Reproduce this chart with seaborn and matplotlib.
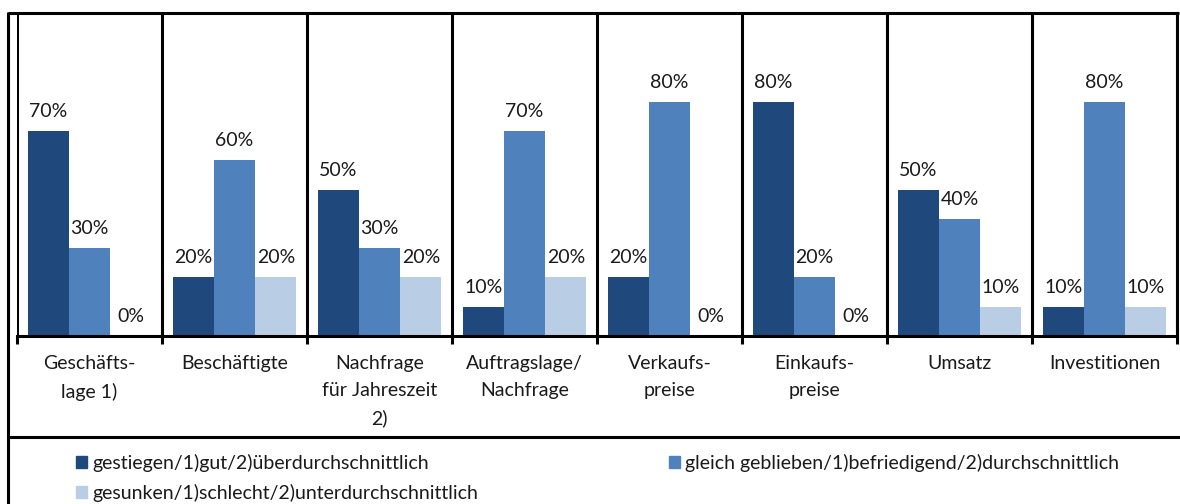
import matplotlib
matplotlib.use("Agg")
import matplotlib.pyplot as plt
from matplotlib.lines import Line2D
import seaborn as sns
import pandas as pd

categories = ["Geschäfts-\nlage 1)", "Beschäftigte", "Nachfrage\nfür Jahreszeit\n2)",
              "Auftragslage/\nNachfrage", "Verkaufs-\npreise", "Einkaufs-\npreise",
              "Umsatz", "Investitionen"]
series_names = ["gestiegen/1)gut/2)überdurchschnittlich",
                "gleich geblieben/1)befriedigend/2)durchschnittlich",
                "gesunken/1)schlecht/2)unterdurchschnittlich"]
gestiegen = [70, 20, 50, 10, 20, 80, 50, 10]
gleich = [30, 60, 30, 70, 80, 20, 40, 80]
gesunken = [0, 20, 20, 20, 0, 0, 10, 10]
colors = ["#1F497D", "#4F81BD", "#B9CDE5"]

rows = []
for name, vals in zip(series_names, [gestiegen, gleich, gesunken]):
    for c, v in zip(categories, vals):
        rows.append({"cat": c, "series": name, "value": v})
df = pd.DataFrame(rows)

sns.set_theme(style="white")
plt.rcParams["font.family"] = ["Lato", "DejaVu Sans"]
FS = 14
TXT = "#1a1a1a"
W, H = 1180, 504
fig = plt.figure(figsize=(W / 100, H / 100), dpi=100)
ax = fig.add_axes([17 / W, (H - 336) / H, 1160 / W, 323 / H])

sns.barplot(data=df, x="cat", y="value", hue="series", order=categories,
            hue_order=series_names, palette=colors, width=0.855, gap=0,
            saturation=1, ax=ax, legend=False, linewidth=0, edgecolor="none")

for cont in ax.containers:
    ax.bar_label(cont, fmt="{:.0f}%", padding=8, fontsize=FS, color=TXT)

ax.set_xlim(-0.5, 7.5)
ax.set_ylim(0, 110.4)
ax.set_yticks([])
ax.set_xlabel("")
ax.set_ylabel("")

# boundaries as major ticks with grid, category labels as minor ticks
bounds = [i - 0.5 for i in range(len(categories) + 1)]
ax.set_xticks(bounds)
ax.set_xticklabels([""] * len(bounds))
ax.set_xticks(list(range(len(categories))), minor=True)
ax.set_xticklabels(categories, minor=True, fontsize=FS, color=TXT,
                   linespacing=1.7)
ax.tick_params(axis="x", which="major", length=6, width=2.2, color="black",
               direction="out", bottom=True)
ax.tick_params(axis="x", which="minor", length=0, pad=14)
ax.xaxis.grid(True, which="major", color="black", linewidth=2.2)
ax.set_axisbelow(False)
for s in ["top", "left"]:
    ax.spines[s].set_visible(False)
for s in ["bottom", "right"]:
    ax.spines[s].set_visible(True)
    ax.spines[s].set_color("black")
    ax.spines[s].set_linewidth(2.2)

# outer frame lines (figure coordinates)
def fl(x0, y0, x1, y1, lw=2.2):
    fig.add_artist(Line2D([x0 / W, x1 / W], [1 - y0 / H, 1 - y1 / H],
                          color="black", linewidth=lw, solid_capstyle="butt"))

fl(8, 12.5, 1179, 12.5)
fl(8, 11.5, 8, 504)
fl(8, 437, 1180, 437)

# legend
handles = [plt.Rectangle((0, 0), 1, 1, color=c) for c in colors]
order = [0, 2, 1]
leg = fig.legend([handles[i] for i in order], [series_names[i] for i in order],
                 loc="upper left", bbox_to_anchor=(76 / W, 1 - 454 / H),
                 ncol=2, frameon=False, fontsize=FS, handlelength=0.55,
                 handleheight=0.55, handletextpad=0.3, borderpad=0,
                 borderaxespad=0, labelspacing=0.6, columnspacing=9.8)
for t in leg.get_texts():
    t.set_color(TXT)

fig.savefig("out.png", dpi=100)
